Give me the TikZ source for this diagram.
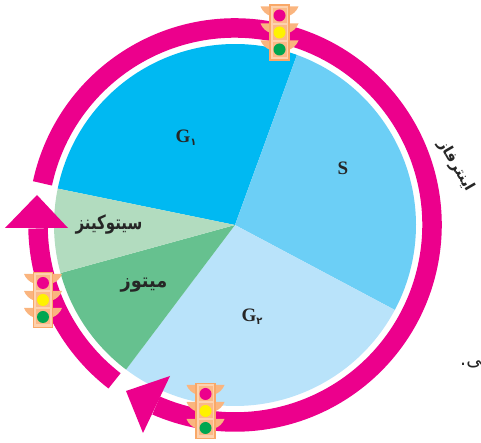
\documentclass[tikz,border=0pt]{standalone}
\usepackage{fontspec}
\setmainfont{Liberation Serif}
\newfontfamily\arabicfont[Script=Arabic]{DejaVu Sans}
\TeXXeTstate=1
\definecolor{ringpink}{HTML}{EC008C}
\definecolor{gone}{HTML}{00B9F2}
\definecolor{sphase}{HTML}{6CCFF6}
\definecolor{gtwo}{HTML}{B9E3FA}
\definecolor{mito}{HTML}{66C18F}
\definecolor{cyto}{HTML}{B2DCBF}
\definecolor{lampframe}{HTML}{F9A868}
\definecolor{lampbody}{HTML}{FDD2AE}
\definecolor{lamppanel}{HTML}{FBB987}
\definecolor{lampyellow}{HTML}{FFF200}
\definecolor{lampgreen}{HTML}{00A651}
\tikzset{
  x=1pt,y=1pt,
  ringstroke/.style={draw=ringpink,line width=19.5pt,line cap=butt},
  headfill/.style={fill=ringpink},
  faword/.style={font=\arabicfont\bfseries\fontsize{15}{15}\selectfont,text=black!85,inner sep=0pt,yscale=1.3},
  lat/.style={font=\bfseries\fontsize{19}{19}\selectfont,text=black!85,inner sep=0pt},
  sidetext/.style={font=\arabicfont\bfseries\fontsize{15}{15}\selectfont,text=black!85,inner sep=0pt},
  pics/trafficlight/.style={code={
    \foreach \ly in {-17,0,17}{
      \fill[lampframe!85] (-10,\ly+9) -- (-19,\ly+9) .. controls (-17,\ly+4) and (-13,\ly+1) .. (-10,\ly) -- cycle;
      \fill[lampframe!85] (10,\ly+9) -- (19,\ly+9) .. controls (17,\ly+4) and (13,\ly+1) .. (10,\ly) -- cycle;
    }
    \draw[lampframe,fill=lampbody,line width=1.2pt] (-9.5,-27.5) rectangle (9.5,27.5);
    \foreach \ly/\lc in {-17/lampgreen,0/lampyellow,17/ringpink}{
      \fill[lamppanel] (-7,\ly-7.5) rectangle (7,\ly+7.5);
      \fill[\lc] (0,\ly) circle (6);
    }
  }}
}
\begin{document}
\begin{tikzpicture}
\useasboundingbox (0,0) rectangle (481,443);
\clip (0,0) rectangle (481,443);
\coordinate (c) at (235,218);
% pie
\fill[gone] (c) -- ++(70:181) arc[start angle=70,end angle=168.4,radius=181] -- cycle;
\fill[sphase] (c) -- ++(-28:181) arc[start angle=-28,end angle=70,radius=181] -- cycle;
\fill[gtwo] (c) -- ++(233:181) arc[start angle=233,end angle=332,radius=181] -- cycle;
\fill[mito] (c) -- ++(195.4:181) arc[start angle=195.4,end angle=233,radius=181] -- cycle;
\fill[cyto] (c) -- ++(168.4:181) arc[start angle=168.4,end angle=195.4,radius=181] -- cycle;
% ring
\draw[ringstroke] (c) ++(167.8:197) arc[start angle=167.8,end angle=-113.6,radius=197];
\fill[headfill] (126,52) -- (170,67) -- (143,10) -- cycle;
\draw[ringstroke] (c) ++(232.3:197) arc[start angle=232.3,end angle=181,radius=197];
\fill[headfill] (37,248) -- (5,215) -- (68,215) -- cycle;
% lights
\pic at (279.5,410.5) {trafficlight};
\pic at (43,143) {trafficlight};
\pic at (205.5,32) {trafficlight};
% labels
\node[lat] (gone1) at (186,305) {G\raisebox{-3pt}{\arabicfont\fontsize{10}{10}\selectfont ۱}};
\node[lat] (sph) at (343,275) {S};
\node[lat] (gtwo2) at (252,126) {G\raisebox{-3pt}{\arabicfont\fontsize{10}{10}\selectfont ۲}};
\node[faword] (cytoword) at (109,219) {\beginR سیتوکینز\endR};
\node[faword,xscale=1.18] (mitoword) at (144,158) {\beginR میتوز\endR};
\node[sidetext,rotate=-60] (inter) at (456,277) {\beginR اینترفاز\endR};
\node[sidetext,anchor=west,font=\arabicfont\fontsize{19}{19}\selectfont] (tail) at (460,79) {\beginR ^^^^200dی.\endR};
\end{tikzpicture}
\end{document}
